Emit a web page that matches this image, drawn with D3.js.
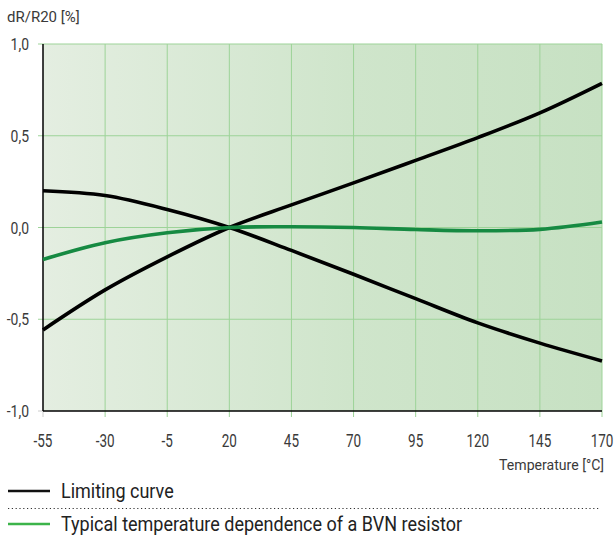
<!DOCTYPE html>
<html>
<head>
<meta charset="utf-8">
<script src="https://cdn.jsdelivr.net/npm/d3@7"></script>
<style>
  body { margin: 0; background: #fff; }
  svg { display: block; font-family: "Roboto", "DejaVu Sans Condensed", sans-serif; }
</style>
</head>
<body>
<svg id="chart"></svg>
<script>
const temps = [-55, -30, -5, 20, 45, 70, 95, 120, 145, 170];
const limitUpper = [0.2, 0.174, 0.098, 0, -0.125, -0.255, -0.388, -0.52, -0.63, -0.727];
const limitLower = [-0.558, -0.34, -0.16, 0, 0.123, 0.243, 0.366, 0.49, 0.625, 0.786];
const typical = [-0.174, -0.083, -0.029, 0, 0.004, 0, -0.011, -0.018, -0.01, 0.03];

const xTicks = [-55, -30, -5, 20, 45, 70, 95, 120, 145, 170];
const yTicks = [-1, -0.5, 0, 0.5, 1];

const width = 614;
const height = 535;
const margin = { left: 43, right: 12, top: 44, bottom: 124 };

const svg = d3.select("#chart")
    .attr("width", width)
    .attr("height", height);

const x = d3.scaleLinear().domain([-55, 170]).range([margin.left, width - margin.right]);
const y = d3.scaleLinear().domain([-1, 1]).range([height - margin.bottom, margin.top]);

// condensed-looking text: squeeze glyphs horizontally
function label(parent, px, py, sx) {
    return parent.append("text")
        .attr("transform", `translate(${px},${py}) scale(${sx},1)`);
}

// background gradient
const grad = svg.append("defs").append("linearGradient")
    .attr("id", "bg")
    .attr("x1", "0%").attr("x2", "100%").attr("y1", "0%").attr("y2", "0%");
grad.append("stop").attr("offset", "0%").attr("stop-color", "#e4eee1");
grad.append("stop").attr("offset", "55%").attr("stop-color", "#cfe5cb");
grad.append("stop").attr("offset", "100%").attr("stop-color", "#c7e1c3");

svg.append("rect")
    .attr("x", x(-55))
    .attr("y", y(1))
    .attr("width", x(170) - x(-55))
    .attr("height", y(-1) - y(1))
    .attr("fill", "url(#bg)");

// grid
const gridColor = "#9dd398";
svg.append("g")
    .selectAll("line")
    .data(xTicks.slice(1))
    .enter()
    .append("line")
    .attr("x1", d => x(d)).attr("x2", d => x(d))
    .attr("y1", y(1)).attr("y2", y(-1) + 6)
    .attr("stroke", gridColor)
    .attr("stroke-width", 1);

svg.append("g")
    .selectAll("line")
    .data(yTicks.slice(1))
    .enter()
    .append("line")
    .attr("x1", x(-55) - 5).attr("x2", x(170))
    .attr("y1", d => y(d)).attr("y2", d => y(d))
    .attr("stroke", gridColor)
    .attr("stroke-width", 1);

// tick stubs at the corner
svg.append("line")
    .attr("x1", x(-55) - 5).attr("x2", x(-55))
    .attr("y1", y(-1)).attr("y2", y(-1))
    .attr("stroke", "#ccc");
svg.append("line")
    .attr("x1", x(-55)).attr("x2", x(-55))
    .attr("y1", y(-1)).attr("y2", y(-1) + 6)
    .attr("stroke", "#ccc");

// axes lines
svg.append("line")
    .attr("x1", x(-55)).attr("x2", x(-55))
    .attr("y1", y(1)).attr("y2", y(-1))
    .attr("stroke", "#000").attr("stroke-width", 1.5);
svg.append("line")
    .attr("x1", x(-55)).attr("x2", x(170))
    .attr("y1", y(-1)).attr("y2", y(-1))
    .attr("stroke", "#000").attr("stroke-width", 1.5);

// tick labels
const fmt = d => d3.format(".1f")(d).replace(".", ",").replace("−", "-");
const yLabels = svg.append("g");
yTicks.forEach(d => {
    label(yLabels, 29, y(d), 0.82)
        .attr("dy", "0.36em")
        .attr("text-anchor", "end")
        .attr("font-size", 17)
        .attr("fill", "#3a3a3a")
        .text(fmt(d));
});

const xLabels = svg.append("g");
xTicks.forEach(d => {
    label(xLabels, x(d), 447, 0.75)
        .attr("text-anchor", "middle")
        .attr("font-size", 18)
        .attr("fill", "#3a3a3a")
        .text(d);
});

label(svg, 7, 22, 1)
    .attr("font-size", 15)
    .attr("fill", "#3a3a3a")
    .text("dR/R20 [%]");

label(svg, 604, 470, 0.94)
    .attr("text-anchor", "end")
    .attr("font-size", 15)
    .attr("fill", "#3a3a3a")
    .text("Temperature [°C]");

// curves
const line = d3.line()
    .x((d, i) => x(temps[i]))
    .y(d => y(d))
    .curve(d3.curveCatmullRom.alpha(0.5));

const plot = svg.append("g");
plot.append("path").attr("d", line(limitUpper))
    .attr("fill", "none").attr("stroke", "#000").attr("stroke-width", 3.6);
plot.append("path").attr("d", line(limitLower))
    .attr("fill", "none").attr("stroke", "#000").attr("stroke-width", 3.6);
plot.append("path").attr("d", line(typical))
    .attr("fill", "none").attr("stroke", "#168a42").attr("stroke-width", 3.6);

// legend
const legend = svg.append("g");
legend.append("line")
    .attr("x1", 8).attr("x2", 50).attr("y1", 491).attr("y2", 491)
    .attr("stroke", "#111").attr("stroke-width", 2.5);
label(legend, 61, 498, 0.9)
    .attr("font-size", 20).attr("fill", "#222")
    .text("Limiting curve");
legend.append("line")
    .attr("x1", 8).attr("x2", 600).attr("y1", 508.5).attr("y2", 508.5)
    .attr("stroke", "#333").attr("stroke-width", 1.2)
    .attr("stroke-dasharray", "1.2,2.6");
legend.append("line")
    .attr("x1", 8).attr("x2", 50).attr("y1", 524).attr("y2", 524)
    .attr("stroke", "#3cb44a").attr("stroke-width", 2.5);
label(legend, 61, 531, 0.9)
    .attr("font-size", 20).attr("fill", "#222")
    .text("Typical temperature dependence of a BVN resistor");
</script>
</body>
</html>
